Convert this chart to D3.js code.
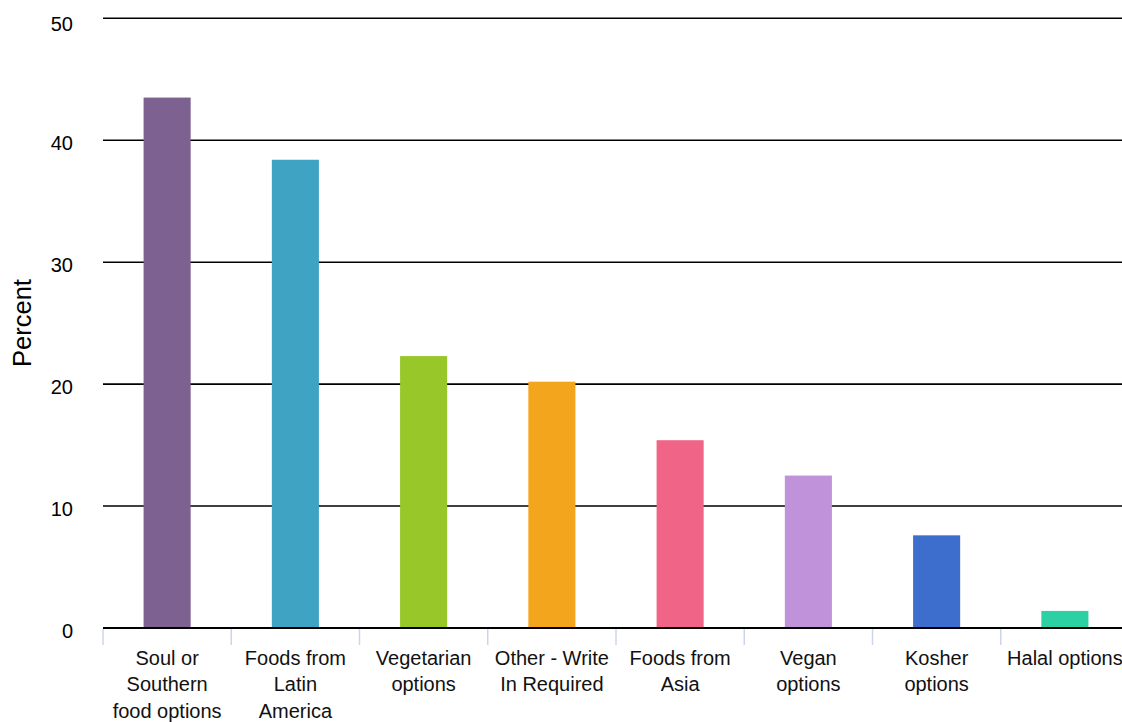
<!DOCTYPE html>
<html>
<head>
<meta charset="utf-8">
<script src="https://cdn.jsdelivr.net/npm/d3@7/dist/d3.min.js"></script>
<style>
  html, body { margin: 0; padding: 0; background: #fff; }
  svg { display: block; font-family: "Liberation Sans", Arial, Helvetica, sans-serif; }
</style>
</head>
<body>
<svg id="chart" width="1122" height="722"></svg>
<script>
// Share of respondents choosing each food option (percent)
const categories = [
  "Soul or Southern food options",
  "Foods from Latin America",
  "Vegetarian options",
  "Other - Write In Required",
  "Foods from Asia",
  "Vegan options",
  "Kosher options",
  "Halal options"
];
const percentValues = [43.5, 38.4, 22.3, 20.2, 15.4, 12.5, 7.6, 1.4];
const barColors = ["#7d6190", "#3fa3c3", "#97c728", "#f4a51e", "#f06487", "#c092da", "#3d6ece", "#2bd0a3"];
// Category labels broken into lines
const labelLines = [
  ["Soul or", "Southern", "food options"],
  ["Foods from", "Latin", "America"],
  ["Vegetarian", "options"],
  ["Other - Write", "In Required"],
  ["Foods from", "Asia"],
  ["Vegan", "options"],
  ["Kosher", "options"],
  ["Halal options"]
];
const yTicks = [0, 10, 20, 30, 40, 50];
const yTitle = "Percent";

const svg = d3.select("#chart");
const plotLeft = 103, plotRight = 1129, plotTop = 18.3, plotBottom = 628;

const x = d3.scaleBand().domain(categories).range([plotLeft, plotRight]).paddingInner(0).paddingOuter(0);
const y = d3.scaleLinear().domain([0, 50]).range([plotBottom, plotTop]);
const barW = x.bandwidth() * 0.367;

// Horizontal grid lines
svg.append("g").selectAll("line").data(yTicks).join("line")
  .attr("x1", plotLeft).attr("x2", 1122)
  .attr("y1", d => y(d)).attr("y2", d => y(d))
  .attr("stroke", "#000").attr("stroke-width", 1.6);

// Y axis labels
svg.append("g").selectAll("text").data(yTicks).join("text")
  .attr("x", 73)
  .attr("y", d => Math.max(y(d) + 9.5, 30.5))
  .attr("text-anchor", "end")
  .attr("font-size", 20).attr("fill", "#000")
  .text(d => d);

// Y axis title
svg.append("text")
  .attr("transform", "translate(31,323) rotate(-90)")
  .attr("text-anchor", "middle")
  .attr("font-size", 25.5).attr("fill", "#000")
  .text(yTitle);

// Bars
svg.append("g").selectAll("rect").data(categories).join("rect")
  .attr("x", d => x(d) + (x.bandwidth() - barW) / 2)
  .attr("y", (d, i) => y(percentValues[i]))
  .attr("width", barW)
  .attr("height", (d, i) => y(0) - y(percentValues[i]))
  .attr("fill", (d, i) => barColors[i]);

// Baseline
svg.append("line")
  .attr("x1", plotLeft).attr("x2", 1122)
  .attr("y1", plotBottom).attr("y2", plotBottom)
  .attr("stroke", "#000").attr("stroke-width", 2);

// Category tick marks at band edges
const edges = categories.map(d => x(d));
svg.append("g").selectAll("line").data(edges).join("line")
  .attr("x1", d => d).attr("x2", d => d)
  .attr("y1", plotBottom + 1).attr("y2", plotBottom + 17)
  .attr("stroke", "#ccd6eb").attr("stroke-width", 1.5);

// Category labels
const lab = svg.append("g").selectAll("text").data(categories).join("text")
  .attr("text-anchor", "middle")
  .attr("font-size", 20).attr("fill", "#111")
  .attr("transform", d => `translate(${x(d) + x.bandwidth() / 2},664.5)`);
lab.each(function(d, i) {
  d3.select(this).selectAll("tspan").data(labelLines[i]).join("tspan")
    .attr("x", 0).attr("y", (s, j) => j * 26.5)
    .text(s => s);
});
</script>
</body>
</html>
